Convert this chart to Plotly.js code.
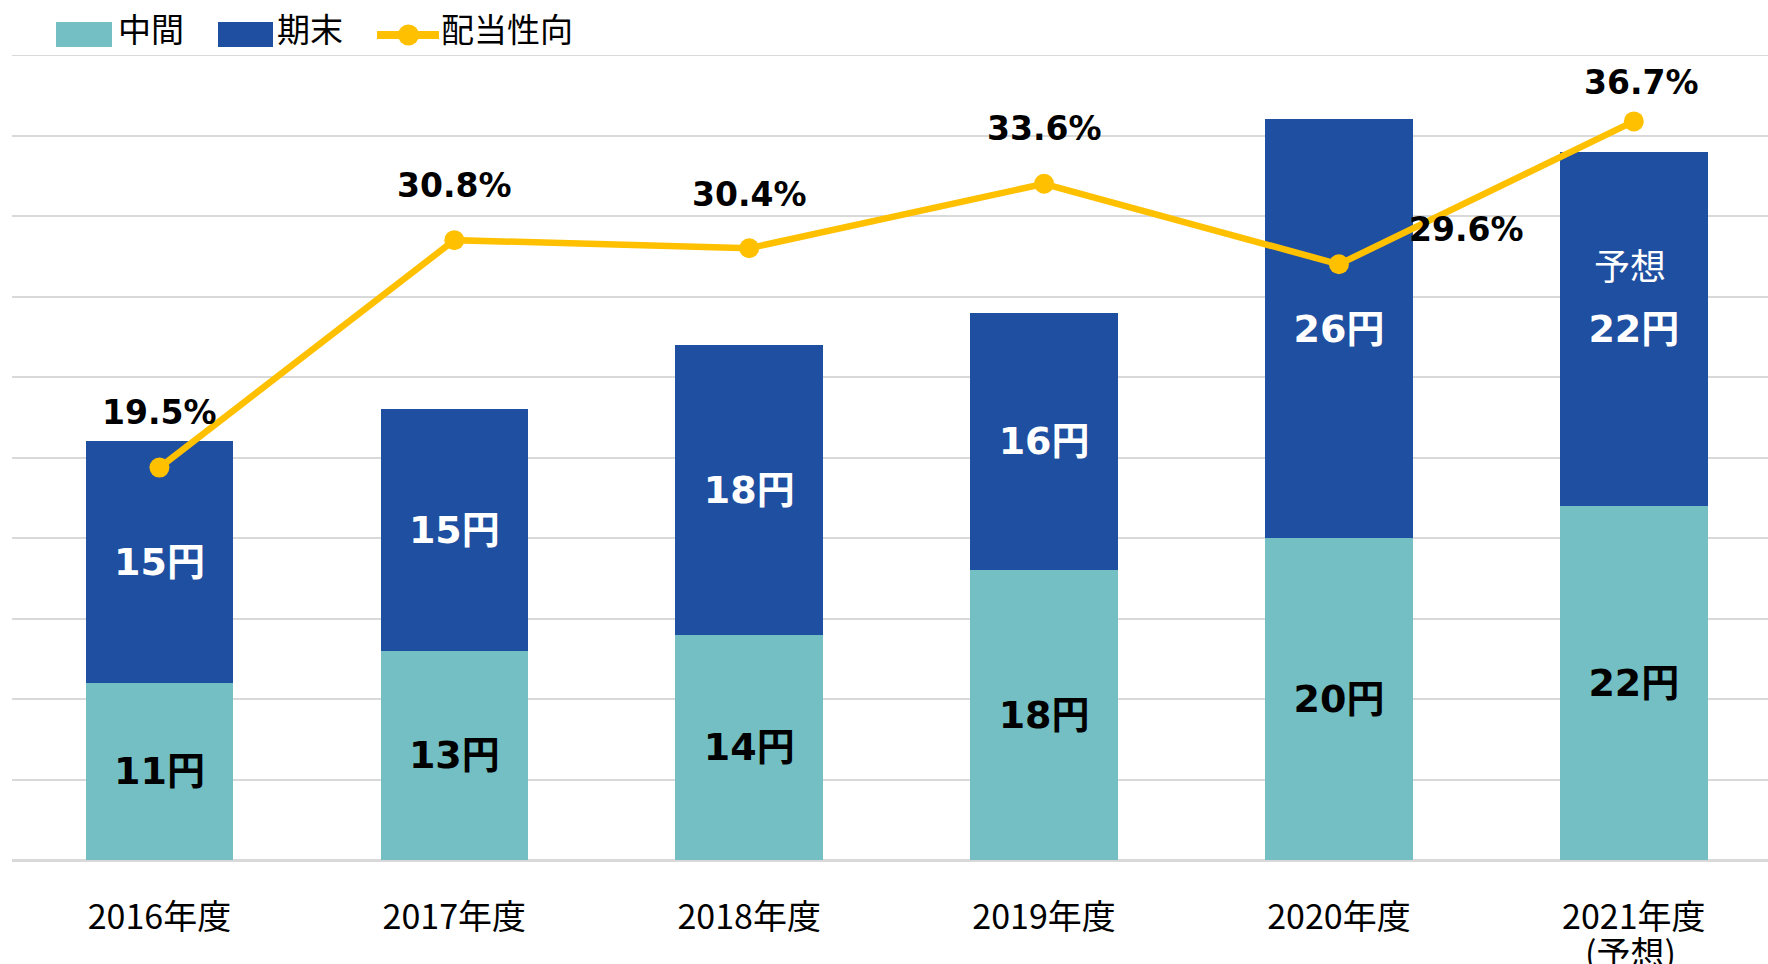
<!DOCTYPE html>
<html>
<head>
<meta charset="utf-8">
<script src="https://cdn.plot.ly/plotly-3.0.1.min.js"></script>
<style>
html,body{margin:0;padding:0;background:#fff;}
#chart{width:1768px;height:964px;}
</style>
</head>
<body>
<div id="chart"></div>
<script>
// ---- data ----
const categories = ["2016年度", "2017年度", "2018年度", "2019年度", "2020年度", "2021年度"];
const interim = [11, 13, 14, 18, 20, 22];          // 中間 (円)
const yearEnd = [15, 15, 18, 16, 26, 22];          // 期末 (円)
const payoutRatio = [19.5, 30.8, 30.4, 33.6, 29.6, 36.7]; // 配当性向 (%)
const seriesNames = ["中間", "期末", "配当性向"];
const forecastNote = "予想";
const forecastTickNote = "(予想)";

// ---- styling / layout helpers ----
const W = 1768, H = 964;
const M = {l: 12, r: 0, t: 55, b: 104};
const PW = W - M.l - M.r, PH = H - M.t - M.b;
const px = x => (x - M.l) / PW;
const py = y => (H - M.b - y) / PH;

const TEAL = "#73BFC4", BLUE = "#1F4FA0", GOLD = "#FFC000", GRID = "#D9D9D9";
const BOLD_FONT = "DejaVu Sans, Noto Sans CJK JP, sans-serif";
const CJK_FONT = "Noto Sans CJK JP, DejaVu Sans, sans-serif";

const traces = [
  {
    type: "bar", name: seriesNames[0], x: categories, y: interim, width: 0.5,
    marker: {color: TEAL},
    text: interim.map(v => v + "円"), textposition: "inside", insidetextanchor: "middle",
    textangle: 0, constraintext: "none",
    textfont: {family: BOLD_FONT, size: 38, color: "#000", weight: "bold"},
    hoverinfo: "skip"
  },
  {
    type: "bar", name: seriesNames[1], x: categories, y: yearEnd, width: 0.5,
    marker: {color: BLUE},
    text: yearEnd.map(v => v + "円"), textposition: "inside", insidetextanchor: "middle",
    textangle: 0, constraintext: "none",
    textfont: {family: BOLD_FONT, size: 38, color: "#fff", weight: "bold"},
    hoverinfo: "skip"
  },
  {
    type: "scatter", mode: "lines+markers", name: seriesNames[2], x: categories, y: payoutRatio,
    yaxis: "y2", line: {color: GOLD, width: 6.5}, marker: {color: GOLD, size: 20},
    hoverinfo: "skip"
  }
];

// offsets (pixels) of the percentage labels relative to their points
const pctOffsets = [[0, 55], [0, 55], [0, 54], [0, 55], [128, 35], [8, 39]];

const annotations = payoutRatio.map((v, i) => ({
  x: categories[i], y: v, xref: "x", yref: "y2", showarrow: false,
  text: v.toFixed(1) + "%", xshift: pctOffsets[i][0], yshift: pctOffsets[i][1],
  font: {family: BOLD_FONT, size: 33, color: "#000", weight: "bold"},
  xanchor: "center", yanchor: "middle"
}));

// forecast note on the last bar
const last = categories.length - 1;
annotations.push({
  x: categories[last], y: interim[last] + yearEnd[last] / 2, xref: "x", yref: "y",
  showarrow: false, text: forecastNote, yshift: 65, xshift: -4,
  font: {family: CJK_FONT, size: 36, color: "#fff"}, xanchor: "center", yanchor: "middle"
});
// second line under the last category label
annotations.push({
  x: categories[last], y: py(951), xref: "x", yref: "paper",
  showarrow: false, text: forecastTickNote, xshift: -3,
  font: {family: CJK_FONT, size: 34, color: "#000"}, xanchor: "center", yanchor: "middle"
});

// custom legend
const legendFont = {family: CJK_FONT, size: 33, color: "#000"};
annotations.push(
  {xref: "paper", yref: "paper", x: px(116), y: py(28), text: seriesNames[0], showarrow: false, xanchor: "left", yanchor: "middle", font: legendFont},
  {xref: "paper", yref: "paper", x: px(275), y: py(28), text: seriesNames[1], showarrow: false, xanchor: "left", yanchor: "middle", font: legendFont},
  {xref: "paper", yref: "paper", x: px(439), y: py(28), text: seriesNames[2], showarrow: false, xanchor: "left", yanchor: "middle", font: legendFont}
);
const shapes = [
  {type: "rect", xref: "paper", yref: "paper", x0: px(56), x1: px(112), y0: py(47), y1: py(22), fillcolor: TEAL, line: {width: 0}},
  {type: "rect", xref: "paper", yref: "paper", x0: px(218), x1: px(273), y0: py(47), y1: py(22), fillcolor: BLUE, line: {width: 0}},
  {type: "line", xref: "paper", yref: "paper", x0: px(377), x1: px(439), y0: py(35), y1: py(35), line: {color: GOLD, width: 8}},
  {type: "circle", xref: "paper", yref: "paper", x0: px(398), x1: px(419), y0: py(45.5), y1: py(24.5), fillcolor: GOLD, line: {width: 0}},
  // top gridline at the upper end of the axis
  {type: "line", xref: "paper", yref: "y", x0: 0, x1: 1, y0: 50, y1: 50, line: {color: GRID, width: 2}, layer: "below"}
];

const layout = {
  width: W, height: H,
  margin: M,
  paper_bgcolor: "#fff", plot_bgcolor: "#fff",
  barmode: "stack",
  showlegend: false,
  xaxis: {
    type: "category", range: [-0.5, 5.455], showgrid: false, zeroline: false, showline: false,
    ticks: "", ticklabelstandoff: 34,
    tickfont: {family: CJK_FONT, size: 34, color: "#000"}, fixedrange: true
  },
  yaxis: {
    range: [0, 50], dtick: 5, showgrid: true, gridcolor: GRID, gridwidth: 2,
    zeroline: true, zerolinecolor: GRID, zerolinewidth: 3,
    showticklabels: false, ticks: "", fixedrange: true
  },
  yaxis2: {
    range: [0, 40], overlaying: "y", side: "right", showgrid: false, zeroline: false,
    showticklabels: false, ticks: "", fixedrange: true
  },
  annotations: annotations,
  shapes: shapes,
  hovermode: false
};

Plotly.newPlot("chart", traces, layout, {displayModeBar: false, staticPlot: true});
</script>
</body>
</html>
